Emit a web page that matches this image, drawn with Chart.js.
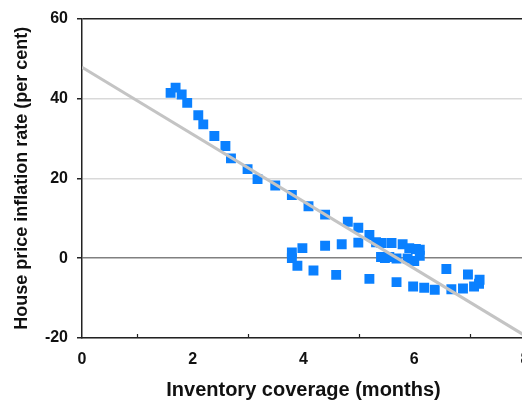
<!DOCTYPE html>
<html>
<head>
<meta charset="utf-8">
<script src="https://cdn.jsdelivr.net/npm/chart.js@4.4.1/dist/chart.umd.min.js"></script>
<style>
    html, body { margin: 0; padding: 0; background: #fff; overflow: hidden; }
    #wrap { width: 522px; height: 402px; overflow: hidden; }
</style>
</head>
<body>
<div id="wrap"><canvas id="chart" width="540" height="402"></canvas></div>
<script>
// ===============================================
// DATOS
// ===============================================
const coverage = [
    1.60, 1.69, 1.80, 1.90, 2.10, 2.19, 2.39, 2.59, 2.69, 2.99, 3.17, 3.49,
    3.79, 4.09, 4.39, 4.80, 4.99, 5.19, 5.31, 5.41, 5.59, 5.79, 5.91, 6.03,
    6.10, 6.10, 6.00, 5.88, 5.68, 5.55, 5.47, 5.40,
    3.79, 3.79, 3.89, 3.98, 4.18, 4.39, 4.59, 4.69, 4.99, 5.19, 5.68, 5.98,
    6.18, 6.37, 6.58, 6.67, 6.88, 6.97, 7.08, 7.17, 7.18
];
const inflation = [
    41.4, 42.7, 41.0, 38.9, 35.8, 33.5, 30.6, 28.1, 25.0, 22.3, 19.8, 18.2,
    15.8, 13.0, 10.9, 9.1, 7.6, 5.8, 4.0, 3.8, 3.8, 3.5, 2.5, 2.3,
    2.1, 0.6, -0.7, -0.1, -0.1, 0.3, 0.0, 0.3,
    1.4, 0.0, -1.9, 2.5, -3.1, 3.1, -4.2, 3.5, 3.9, -5.2, -6.0, -7.1,
    -7.4, -7.9, -2.7, -7.8, -7.6, -4.1, -7.1, -6.4, -5.4
];
const trendX = [0, 8];
const trendY = [47.8, -19.4];
const xMinorTicks = [1, 3, 5, 7];

const puntos = coverage.map((x, i) => ({ x: x, y: inflation[i] }));
const tendencia = trendX.map((x, i) => ({ x: x, y: trendY[i] }));

// ===============================================
// PLUGIN: marcas menores del eje X (hacia dentro)
// ===============================================
const marcasX = {
    id: "marcasX",
    afterDraw(chart) {
        const ctx = chart.ctx;
        const sx = chart.scales.x;
        const bottom = chart.chartArea.bottom;
        ctx.save();
        ctx.strokeStyle = "#222";
        ctx.lineWidth = 1.2;
        xMinorTicks.forEach(v => {
            const px = Math.round(sx.getPixelForValue(v)) + 0.5;
            ctx.beginPath();
            ctx.moveTo(px, bottom);
            ctx.lineTo(px, bottom - 4);
            ctx.stroke();
        });
        ctx.restore();
    }
};

const fuente = "'Liberation Sans', Arial, sans-serif";

new Chart(document.getElementById("chart"), {
    type: "scatter",
    data: {
        datasets: [
            {
                type: "line",
                data: tendencia,
                borderColor: "#c4c4c4",
                borderWidth: 3,
                pointRadius: 0,
                fill: false,
                order: 0
            },
            {
                data: puntos,
                backgroundColor: "#0a80ff",
                borderColor: "#0a80ff",
                borderWidth: 0,
                pointStyle: "rect",
                pointRadius: 7,
                order: 1
            }
        ]
    },
    options: {
        responsive: false,
        devicePixelRatio: 1,
        animation: false,
        layout: { padding: { top: 16, left: 0, right: 15, bottom: 0 } },
        plugins: {
            legend: { display: false },
            tooltip: { enabled: false }
        },
        scales: {
            x: {
                type: "linear",
                min: 0,
                max: 8,
                afterFit: s => { s.height = 64; },
                border: { color: "#222", width: 1.5 },
                grid: { display: false },
                ticks: {
                    stepSize: 2,
                    padding: 4,
                    color: "#111",
                    font: { family: fuente, size: 16, weight: "bold" }
                },
                title: {
                    display: true,
                    text: "Inventory coverage (months)",
                    color: "#111",
                    padding: { top: 6, bottom: 0 },
                    font: { family: fuente, size: 20, weight: "bold" }
                }
            },
            y: {
                min: -20,
                max: 60,
                afterFit: s => { s.width = 82; },
                border: { color: "#222", width: 1.5 },
                grid: {
                    color: c => {
                        const v = c.tick ? c.tick.value : null;
                        if (v === 60) return "#222";
                        if (v === 0) return "#808080";
                        return "#d9d9d9";
                    },
                    lineWidth: 1.5,
                    tickColor: "#222",
                    tickLength: 5,
                    drawTicks: true
                },
                ticks: {
                    stepSize: 20,
                    padding: 9,
                    color: "#111",
                    font: { family: fuente, size: 16, weight: "bold" }
                },
                title: {
                    display: true,
                    text: "House price inflation rate (per cent)",
                    color: "#111",
                    padding: { top: 11, bottom: 0 },
                    font: { family: fuente, size: 18, weight: "bold" }
                }
            }
        }
    },
    plugins: [marcasX]
});
</script>
</body>
</html>
